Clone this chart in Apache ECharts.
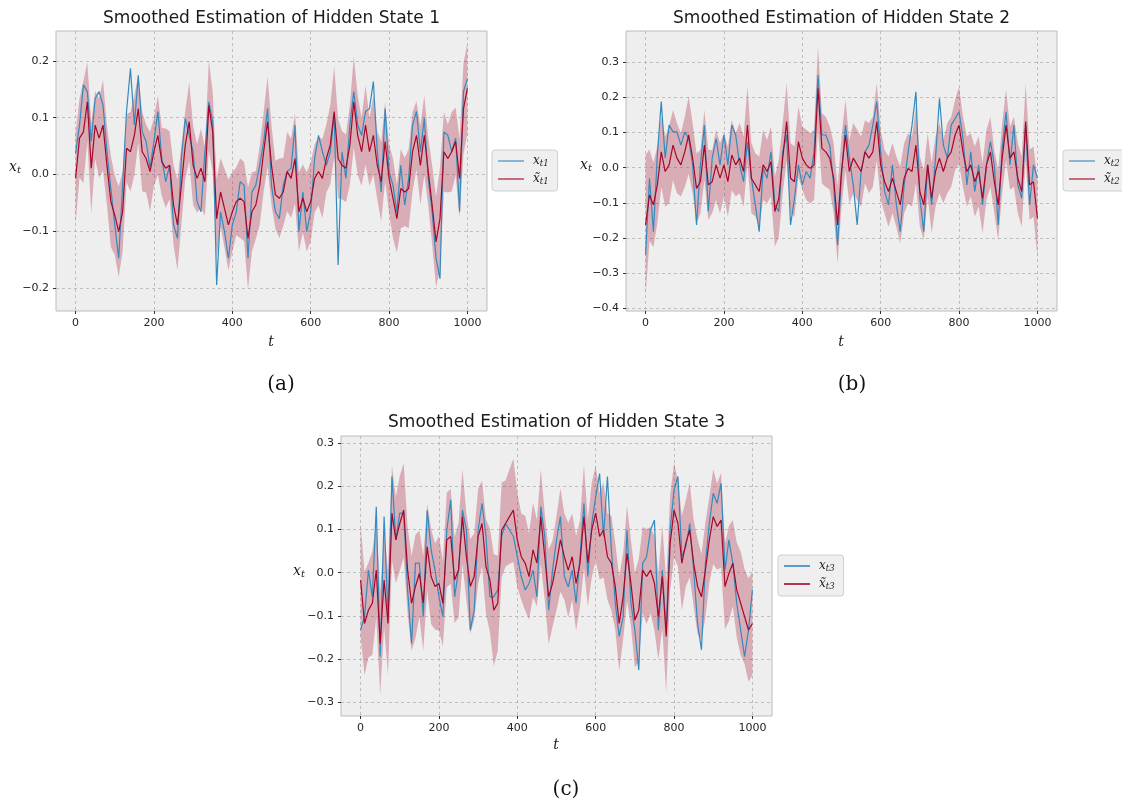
<!DOCTYPE html>
<html>
<head>
<meta charset="utf-8">
<title>Smoothed Estimation of Hidden States</title>
<script src="https://cdn.jsdelivr.net/npm/echarts@6/dist/echarts.min.js"></script>
<style>
  html, body { margin: 0; padding: 0; background: #ffffff; }
  #chart { width: 1122px; height: 804px; }
</style>
</head>
<body>
<div id="chart"></div>
<script>
// time steps (every 10th step of the run)
const steps = [0,10,20,30,40,50,60,70,80,90,100,110,120,130,140,150,160,170,180,190,
  200,210,220,230,240,250,260,270,280,290,300,310,320,330,340,350,360,370,380,390,
  400,410,420,430,440,450,460,470,480,490,500,510,520,530,540,550,560,570,580,590,
  600,610,620,630,640,650,660,670,680,690,700,710,720,730,740,750,760,770,780,790,
  800,810,820,830,840,850,860,870,880,890,900,910,920,930,940,950,960,970,980,990,1000];

// tick positions
const xTicks = [0, 200, 400, 600, 800, 1000];
const yTicksA = [-0.2, -0.1, 0.0, 0.1, 0.2];
const yTicksB = [-0.4, -0.3, -0.2, -0.1, 0.0, 0.1, 0.2, 0.3];
const yTicksC = [-0.3, -0.2, -0.1, 0.0, 0.1, 0.2, 0.3];

// hidden state 1: true value, smoothed estimate, band half-width
const trueA = [0.037,0.087,0.158,0.146,0.058,0.134,0.146,0.122,0.040,-0.025,
  -0.089,-0.148,-0.019,0.111,0.187,0.087,0.175,0.075,0.058,0.011,
  0.058,0.111,0.028,-0.013,0.016,-0.089,-0.113,0.028,0.099,0.069,
  0.040,-0.048,-0.066,0.040,0.128,0.093,-0.195,-0.066,-0.101,-0.148,
  -0.089,-0.066,-0.013,-0.019,-0.148,-0.031,-0.019,0.016,0.058,0.116,
  -0.019,-0.066,-0.078,-0.019,0.005,0.011,0.087,-0.101,-0.031,-0.101,
  -0.066,0.028,0.069,0.040,0.016,0.040,0.105,-0.160,0.040,-0.007,
  0.087,0.146,0.087,0.069,0.111,0.116,0.164,0.040,-0.031,0.116,
  0.005,-0.019,-0.066,0.016,-0.054,-0.007,0.087,0.111,0.040,0.099,
  -0.007,-0.066,-0.148,-0.184,0.075,0.069,0.040,0.064,-0.066,0.146,
  0.169];
const estA = [-0.007,0.064,0.075,0.128,0.011,0.087,0.064,0.087,0.016,-0.048,
  -0.072,-0.101,-0.066,0.046,0.040,0.069,0.116,0.040,0.028,0.005,
  0.040,0.069,0.022,0.011,0.016,-0.054,-0.089,-0.019,0.052,0.093,
  0.016,-0.007,0.011,-0.013,0.122,0.075,-0.078,-0.031,-0.060,-0.089,
  -0.066,-0.048,-0.042,-0.048,-0.113,-0.066,-0.054,-0.019,0.040,0.093,
  0.016,-0.036,-0.042,-0.031,0.005,-0.007,0.028,-0.066,-0.042,-0.066,
  -0.048,-0.007,0.005,-0.007,0.028,0.052,0.111,0.028,0.016,0.011,
  0.052,0.128,0.069,0.040,0.087,0.040,0.069,0.016,-0.013,0.058,
  -0.007,-0.042,-0.078,-0.025,-0.031,-0.025,0.040,0.069,0.016,0.069,
  0.005,-0.054,-0.119,-0.078,0.040,0.028,0.040,0.058,-0.007,0.116,
  0.152];
const spreadA = [0.08,0.07,0.09,0.07,0.08,0.06,0.07,0.08,0.07,0.08,
  0.07,0.08,0.07,0.06,0.07,0.07,0.06,0.07,0.06,0.07,
  0.06,0.07,0.06,0.07,0.06,0.07,0.08,0.07,0.06,0.07,
  0.07,0.06,0.07,0.06,0.08,0.07,0.07,0.06,0.07,0.08,
  0.07,0.06,0.07,0.07,0.09,0.07,0.06,0.07,0.07,0.08,
  0.07,0.06,0.07,0.06,0.07,0.07,0.08,0.07,0.06,0.07,
  0.07,0.06,0.06,0.07,0.06,0.07,0.08,0.07,0.06,0.06,
  0.07,0.08,0.07,0.06,0.07,0.06,0.07,0.06,0.07,0.07,
  0.06,0.07,0.06,0.07,0.06,0.07,0.07,0.06,0.07,0.07,
  0.06,0.07,0.08,0.09,0.07,0.06,0.07,0.06,0.07,0.08,
  0.08];

// hidden state 2
const trueB = [-0.248,-0.030,-0.182,0.036,0.188,0.027,0.121,0.102,0.102,0.064,
  0.102,0.083,0.008,-0.163,0.008,0.121,-0.125,0.027,0.083,0.008,
  0.093,0.008,0.121,0.093,0.008,-0.040,0.074,-0.030,-0.106,-0.182,
  -0.002,-0.030,0.045,-0.106,-0.125,0.045,0.093,-0.163,-0.087,0.008,
  -0.049,-0.011,-0.030,0.045,0.264,0.093,0.093,0.064,-0.049,-0.220,
  -0.021,0.121,0.027,-0.049,-0.163,-0.011,0.045,0.064,0.121,0.188,
  0.045,-0.068,-0.106,0.008,-0.106,-0.182,-0.049,0.045,0.121,0.216,
  -0.087,-0.182,0.008,-0.106,0.027,0.197,0.064,0.027,0.121,0.140,
  0.159,0.083,-0.049,0.045,-0.068,0.008,-0.106,0.008,0.074,0.008,
  -0.163,0.055,0.159,0.008,0.121,-0.049,-0.087,0.121,-0.106,0.008,
  -0.030];
const estB = [-0.163,-0.078,-0.106,-0.049,0.045,-0.011,0.008,0.064,0.027,0.008,
  0.045,0.093,0.027,-0.059,-0.040,0.064,-0.049,-0.040,0.008,-0.030,
  0.008,-0.040,0.036,0.008,0.027,-0.011,0.121,-0.030,-0.049,-0.068,
  0.008,-0.011,0.017,-0.125,-0.087,0.027,0.131,-0.030,-0.040,0.074,
  0.027,0.008,-0.002,0.008,0.226,0.055,0.045,0.027,-0.030,-0.163,
  -0.011,0.093,-0.011,0.027,0.008,-0.011,0.045,0.027,0.045,0.131,
  0.008,-0.040,-0.068,-0.030,-0.068,-0.106,-0.030,-0.002,-0.011,0.064,
  -0.068,-0.106,0.008,-0.087,-0.011,0.027,-0.011,0.027,0.045,0.093,
  0.121,0.045,-0.011,0.008,-0.040,-0.011,-0.087,0.008,0.045,-0.040,
  -0.106,0.027,0.121,0.027,0.045,-0.030,-0.068,0.131,-0.049,-0.040,
  -0.144];
const spreadB = [0.20,0.13,0.12,0.11,0.10,0.10,0.11,0.10,0.10,0.09,
  0.10,0.11,0.10,0.10,0.09,0.10,0.10,0.09,0.10,0.10,
  0.09,0.10,0.10,0.09,0.10,0.10,0.11,0.10,0.09,0.10,
  0.10,0.09,0.10,0.10,0.11,0.10,0.11,0.10,0.10,0.10,
  0.09,0.10,0.10,0.10,0.12,0.10,0.10,0.09,0.10,0.11,
  0.10,0.10,0.09,0.10,0.10,0.10,0.09,0.10,0.10,0.11,
  0.10,0.09,0.10,0.10,0.10,0.11,0.10,0.10,0.10,0.11,
  0.10,0.10,0.09,0.10,0.10,0.10,0.09,0.10,0.10,0.10,
  0.11,0.10,0.10,0.09,0.10,0.10,0.10,0.10,0.10,0.09,
  0.10,0.10,0.10,0.09,0.10,0.10,0.10,0.11,0.10,0.10,
  0.11];

// hidden state 3
const trueC = [-0.133,-0.102,0.006,-0.056,0.153,-0.195,0.130,-0.102,0.223,0.076,
  0.138,0.138,-0.040,-0.164,0.022,0.022,-0.102,0.145,0.053,0.006,
  -0.056,-0.102,0.099,0.169,-0.056,0.006,0.145,0.099,-0.133,-0.087,
  0.099,0.161,0.084,-0.056,-0.056,-0.040,0.084,0.114,0.099,0.084,
  0.037,-0.009,-0.040,-0.025,0.006,-0.056,0.153,0.084,-0.087,0.006,
  0.076,0.130,-0.009,-0.033,0.006,-0.071,0.037,0.161,-0.009,0.114,
  0.176,0.230,0.084,0.223,0.053,-0.071,-0.148,-0.102,0.099,-0.071,
  -0.133,-0.226,0.022,0.037,0.099,0.122,-0.133,0.006,-0.133,0.099,
  0.192,0.223,0.037,0.060,0.114,0.006,-0.118,-0.179,0.022,0.114,
  0.184,0.161,0.207,0.006,0.076,0.022,-0.071,-0.133,-0.195,-0.133,
  -0.040];
const estC = [-0.017,-0.118,-0.087,-0.071,0.006,-0.164,-0.017,-0.118,0.138,0.076,
  0.114,0.145,0.006,-0.071,-0.032,-0.002,-0.071,0.060,-0.009,-0.032,
  -0.025,-0.071,0.076,0.084,-0.017,0.006,0.130,0.037,-0.032,-0.009,
  0.084,0.114,0.014,-0.017,-0.087,-0.071,0.099,0.114,0.130,0.145,
  0.076,0.037,0.022,-0.009,0.053,0.022,0.130,0.037,-0.056,-0.025,
  0.022,0.076,0.037,0.006,0.037,-0.025,0.022,0.130,0.022,0.099,
  0.138,0.084,0.099,0.037,0.022,-0.032,-0.118,-0.056,0.045,-0.025,
  -0.110,-0.087,0.006,-0.009,0.006,-0.025,-0.102,-0.009,-0.148,0.068,
  0.145,0.114,0.022,0.068,0.099,0.022,-0.032,-0.056,0.006,0.076,
  0.130,0.107,0.122,-0.032,-0.002,0.022,-0.040,-0.071,-0.102,-0.133,
  -0.118];
const spreadC = [0.13,0.12,0.11,0.12,0.11,0.12,0.11,0.12,0.11,0.10,
  0.11,0.11,0.10,0.11,0.12,0.10,0.11,0.10,0.11,0.10,
  0.11,0.10,0.11,0.11,0.10,0.11,0.11,0.10,0.11,0.10,
  0.11,0.10,0.11,0.12,0.13,0.11,0.11,0.10,0.11,0.12,
  0.11,0.10,0.11,0.10,0.11,0.10,0.11,0.10,0.11,0.10,
  0.11,0.12,0.10,0.11,0.10,0.11,0.10,0.12,0.10,0.11,
  0.11,0.10,0.11,0.10,0.11,0.10,0.11,0.10,0.11,0.10,
  0.11,0.12,0.10,0.11,0.10,0.11,0.10,0.12,0.13,0.11,
  0.11,0.10,0.11,0.10,0.11,0.10,0.11,0.10,0.11,0.10,
  0.11,0.10,0.11,0.10,0.11,0.10,0.11,0.12,0.11,0.12,
  0.12];

const titles = ['Smoothed Estimation of Hidden State 1',
                'Smoothed Estimation of Hidden State 2',
                'Smoothed Estimation of Hidden State 3'];
const captions = ['(a)', '(b)', '(c)'];
const trueNames = ['x_t1', 'x_t2', 'x_t3'];
const estNames = ['xs_t1', 'xs_t2', 'xs_t3'];

const BLUE = '#348ABD';
const RED = '#A60628';
const BAND = 'rgba(166,6,40,0.28)';
const FONT = 'DejaVu Sans';
const SERIF = 'DejaVu Serif';

// panel layout
const panels = [
  { tr: trueA, est: estA, sp: spreadA, yTicks: yTicksA, left: 56, top: 31, ymin: -0.241, ymax: 0.253,
    title: [271.5, 18], ylab: [15, 167], xlab: [271, 342], cap: [281, 385], legend: [492, 150], legendAlpha: 0.7 },
  { tr: trueB, est: estB, sp: spreadB, yTicks: yTicksB, left: 626, top: 31, ymin: -0.408, ymax: 0.389,
    title: [841.5, 18], ylab: [586, 165], xlab: [841, 342], cap: [852, 385], legend: [1063, 150], legendAlpha: 0.7 },
  { tr: trueC, est: estC, sp: spreadC, yTicks: yTicksC, left: 341, top: 436, ymin: -0.3325, ymax: 0.317,
    title: [556.5, 422], ylab: [299, 571], xlab: [556, 745], cap: [566, 790], legend: [778, 555], legendAlpha: 1 }
];

const pairs = (vals) => steps.map((t, i) => [t, vals[i]]);

const grid = [], xAxis = [], yAxis = [], series = [], legend = [], graphic = [];

const tickLabelStyle = { color: '#262626', fontFamily: FONT, fontSize: 11 };
const splitLine = { show: true, lineStyle: { color: '#b2b2b2', width: 0.8, type: [3, 3] } };
const fmtY = v => (Math.round(v * 10) / 10).toFixed(1).replace('-', '\u2212');

panels.forEach((p, k) => {
  grid.push({ left: p.left, top: p.top, width: 431, height: 280, show: true,
    backgroundColor: '#eeeeee', borderColor: '#bcbcbc', borderWidth: 1, containLabel: false });
  xAxis.push({ type: 'value', gridIndex: k, min: -50, max: 1050, splitNumber: 5,
    position: 'bottom',
    axisLine: { show: false, onZero: false },
    axisTick: { show: true, length: 3, customValues: xTicks, lineStyle: { color: '#333', width: 1 } },
    axisLabel: { ...tickLabelStyle, margin: 7, customValues: xTicks,
      formatter: v => (v >= 0 && v % 200 === 0) ? String(v) : '' },
    splitLine });
  yAxis.push({ type: 'value', gridIndex: k, min: p.ymin, max: p.ymax, splitNumber: 6,
    position: 'left',
    axisLine: { show: false, onZero: false },
    axisTick: { show: true, length: 3, customValues: p.yTicks, lineStyle: { color: '#333', width: 1 } },
    axisLabel: { ...tickLabelStyle, margin: 7, customValues: p.yTicks,
      formatter: v => {
        if (Math.abs(v * 10 - Math.round(v * 10)) > 1e-6) return '';
        return fmtY(v);
      } },
    splitLine });

  // uncertainty band: estimate plus/minus the half-width, drawn as one polygon
  const bandData = steps.map((t, i) => [t, p.est[i] - p.sp[i], p.est[i] + p.sp[i]]);
  series.push({ name: 'band' + k, type: 'custom', xAxisIndex: k, yAxisIndex: k,
    data: bandData, encode: { x: 0, y: [1, 2] }, silent: true, z: 1,
    renderItem: (params, api) => {
      if (params.dataIndex !== 0) return null;
      const upper = bandData.map(d => api.coord([d[0], d[2]]));
      const lower = bandData.map(d => api.coord([d[0], d[1]])).reverse();
      return { type: 'polygon', shape: { points: upper.concat(lower) },
        style: { fill: BAND, stroke: null } };
    } });
  series.push({ name: trueNames[k], type: 'line', xAxisIndex: k, yAxisIndex: k,
    data: pairs(p.tr), symbol: 'none', color: BLUE,
    lineStyle: { color: BLUE, width: 1.2 }, z: 2 });
  series.push({ name: estNames[k], type: 'line', xAxisIndex: k, yAxisIndex: k,
    data: pairs(p.est), symbol: 'none', color: RED,
    lineStyle: { color: RED, width: 1.2 }, z: 3 });

  legend.push({
    data: [
      { name: trueNames[k], itemStyle: { opacity: p.legendAlpha } },
      { name: estNames[k], itemStyle: { opacity: p.legendAlpha } }
    ],
    orient: 'vertical', left: p.legend[0], top: p.legend[1],
    icon: 'rect', itemWidth: 26, itemHeight: 1.6, itemGap: 5,
    padding: [5, 9, 5, 6],
    backgroundColor: '#efefef', borderColor: '#cfcfcf', borderWidth: 1, borderRadius: 3,
    selectedMode: false,
    formatter: name => {
      const sub = name.slice(name.indexOf('_') + 1);
      const base = name.startsWith('xs') ? 'x\u0303' : 'x';
      return '{v|' + base + '}{s|' + sub + '}';
    },
    textStyle: {
      rich: {
        v: { fontFamily: SERIF, fontStyle: 'italic', fontSize: 12, color: '#222', padding: [0, 0, 0, 4] },
        s: { fontFamily: SERIF, fontStyle: 'italic', fontSize: 8.5, color: '#222', padding: [5, 0, 0, 0] }
      }
    }
  });

  graphic.push({ type: 'text', x: p.title[0], y: p.title[1] + 1,
    style: { text: titles[k], fill: '#1a1a1a', font: '17px "' + FONT + '"',
      textAlign: 'center', textVerticalAlign: 'middle' } });
  graphic.push({ type: 'text', x: p.ylab[0], y: p.ylab[1],
    style: { text: '{v|x}{s|t}', textAlign: 'center', textVerticalAlign: 'middle',
      rich: {
        v: { fontFamily: SERIF, fontStyle: 'italic', fontSize: 14, fill: '#222' },
        s: { fontFamily: SERIF, fontStyle: 'italic', fontSize: 10, fill: '#222', padding: [6, 0, 0, 0] }
      } } });
  graphic.push({ type: 'text', x: p.xlab[0], y: p.xlab[1],
    style: { text: 't', fill: '#222', font: 'italic 14px "' + SERIF + '"',
      textAlign: 'center', textVerticalAlign: 'middle' } });
  graphic.push({ type: 'text', x: p.cap[0], y: p.cap[1],
    style: { text: captions[k], fill: '#111', font: '20px "' + SERIF + '"',
      textAlign: 'center', textVerticalAlign: 'middle' } });
});

const chart = echarts.init(document.getElementById('chart'), null, { renderer: 'canvas' });
chart.setOption({
  animation: false,
  backgroundColor: '#ffffff',
  grid, xAxis, yAxis, series, legend, graphic
});
</script>
</body>
</html>
